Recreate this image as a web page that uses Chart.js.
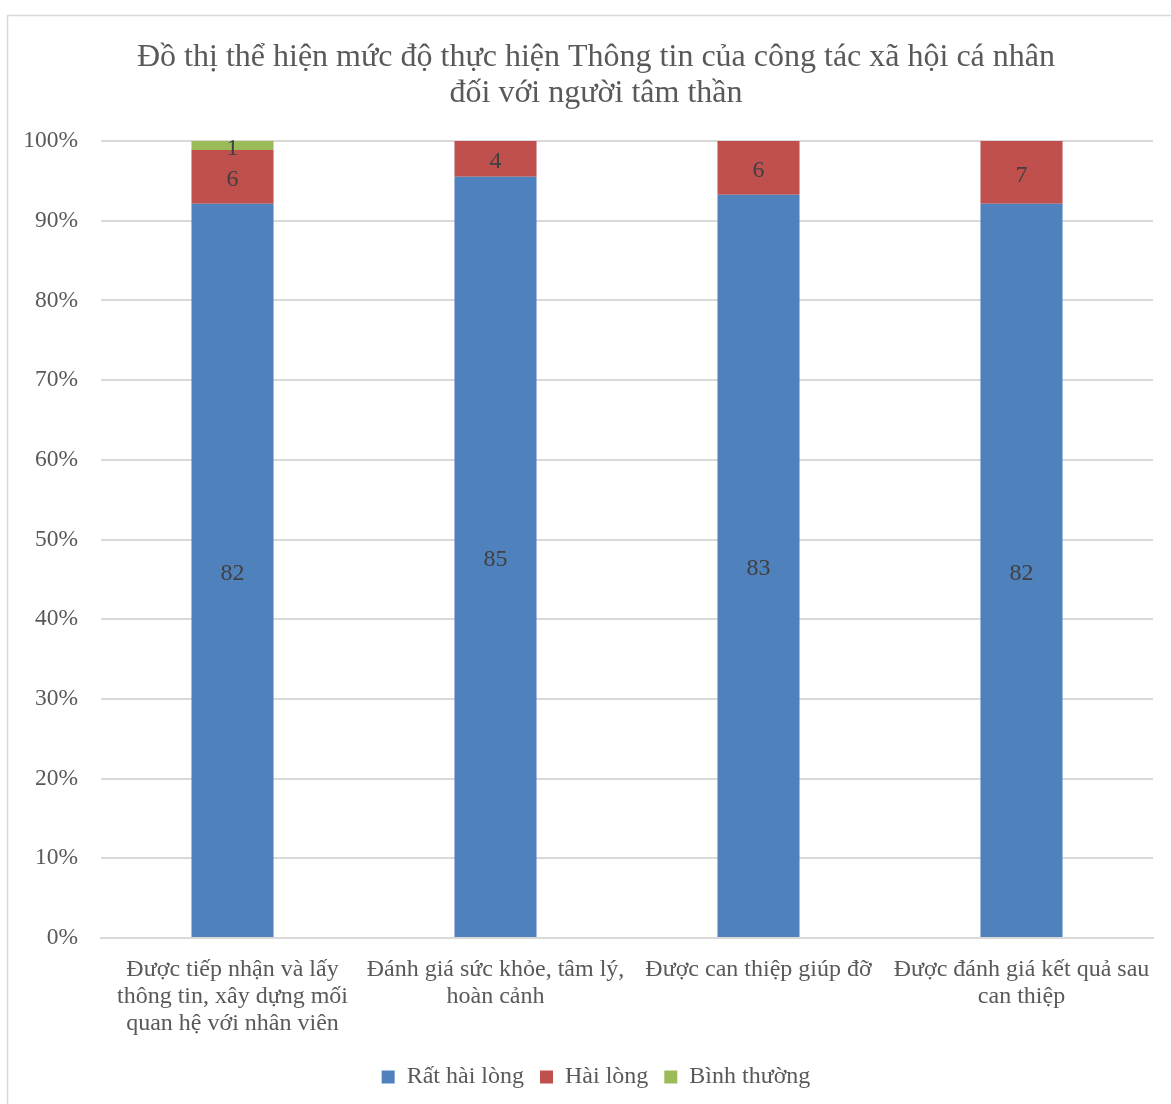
<!DOCTYPE html>
<html lang="vi">
<head>
<meta charset="utf-8">
<title>Đồ thị thể hiện mức độ thực hiện Thông tin của công tác xã hội cá nhân</title>
<script src="https://cdn.jsdelivr.net/npm/chart.js@4/dist/chart.umd.min.js"></script>
<style>
  html, body { margin: 0; padding: 0; background: #fff; overflow: hidden; }
  #wrap { position: absolute; left: 0; top: 0; width: 1171px; height: 1110px; }
</style>
</head>
<body>
<div id="wrap"><canvas id="chart"></canvas></div>
<script>
// Categories (x axis, wrapped onto several lines)
const categories = [
  ["Được tiếp nhận và lấy", "thông tin, xây dựng mối", "quan hệ với nhân viên"],
  ["Đánh giá sức khỏe, tâm lý,", "hoàn cảnh"],
  ["Được can thiệp giúp đỡ"],
  ["Được đánh giá kết quả sau", "can thiệp"]
];

// Response counts per category
const ratHaiLong = [82, 85, 83, 82];
const haiLong = [6, 4, 6, 7];
const binhThuong = [1, 0, 0, 0];

const seriesNames = ["Rất hài lòng", "Hài lòng", "Bình thường"];
const seriesColors = ["#4F81BD", "#C0504D", "#9BBB59"];

// Y axis tick values (percent)
const yTicks = [0, 10, 20, 30, 40, 50, 60, 70, 80, 90, 100];

const titleLines = [
  "Đồ thị thể hiện mức độ thực hiện Thông tin của công tác xã hội cá nhân",
  "đối với người tâm thần"
];

const FONT = "'Liberation Serif', 'Times New Roman', serif";
const TEXT = "#595959";

// Share of each count within its category, for a 100% stacked column
const counts = [ratHaiLong, haiLong, binhThuong];
const totals = categories.map((_, i) => counts.reduce((s, arr) => s + arr[i], 0));
const toPercent = arr => arr.map((v, i) => v / totals[i] * 100);

const datasets = counts.map((arr, k) => ({
  label: seriesNames[k],
  data: toPercent(arr),
  counts: arr,
  backgroundColor: seriesColors[k],
  borderWidth: 0,
  categoryPercentage: 1,
  barPercentage: 0.312
}));

// Outer frame of the chart area
const framePlugin = {
  id: 'frame',
  beforeDraw(chart) {
    const ctx = chart.ctx;
    ctx.save();
    ctx.strokeStyle = '#D9D9D9';
    ctx.lineWidth = 1.5;
    ctx.strokeRect(7.5, 15.5, chart.width + 20, chart.height + 40);
    ctx.restore();
  }
};

// Count labels centred inside each segment
const valueLabels = {
  id: 'valueLabels',
  afterDatasetsDraw(chart) {
    const ctx = chart.ctx;
    ctx.save();
    ctx.font = `24px ${FONT}`;
    ctx.fillStyle = '#404040';
    ctx.textAlign = 'center';
    ctx.textBaseline = 'middle';
    chart.data.datasets.forEach((ds, di) => {
      const meta = chart.getDatasetMeta(di);
      meta.data.forEach((bar, i) => {
        const n = ds.counts[i];
        if (!n) return;
        const cy = (bar.y + bar.base) / 2 + 3;
        ctx.fillText(String(n), bar.x, cy);
      });
    });
    ctx.restore();
  }
};

new Chart(document.getElementById('chart'), {
  type: 'bar',
  data: { labels: categories, datasets },
  options: {
    responsive: true,
    maintainAspectRatio: false,
    animation: false,
    layout: { padding: { left: 39, right: 18, top: 0, bottom: 11 } },
    plugins: {
      title: {
        display: true,
        text: titleLines,
        color: TEXT,
        font: { family: FONT, size: 32, weight: 'normal', lineHeight: 1.125 },
        padding: { top: 40, bottom: 29 }
      },
      legend: {
        position: 'bottom',
        labels: {
          color: TEXT,
          font: { family: FONT, size: 24 },
          boxWidth: 13,
          boxHeight: 13,
          padding: 16
        }
      },
      tooltip: { enabled: false }
    },
    scales: {
      x: {
        stacked: true,
        grid: { display: false, drawTicks: false },
        border: { display: true, color: '#D9D9D9', width: 2 },
        ticks: {
          color: TEXT,
          font: { family: FONT, size: 24, lineHeight: 1.125 },
          padding: 18.5,
          maxRotation: 0,
          autoSkip: false
        },
        afterFit(scale) { scale.height = 111; }
      },
      y: {
        stacked: true,
        min: 0,
        max: 100,
        afterBuildTicks(scale) { scale.ticks = yTicks.map(v => ({ value: v })); },
        grid: { color: '#D9D9D9', lineWidth: 2, drawTicks: false },
        border: { display: false },
        ticks: {
          color: TEXT,
          font: { family: FONT, size: 23.5 },
          padding: 23,
          callback: v => v + '%'
        },
        afterFit(scale) {
          scale.width = 62;
          // tick labels reach left of the narrowed axis box; let them draw unclipped
          scale._computeLabelArea = () => null;
        }
      }
    }
  },
  plugins: [framePlugin, valueLabels]
});
</script>
</body>
</html>
